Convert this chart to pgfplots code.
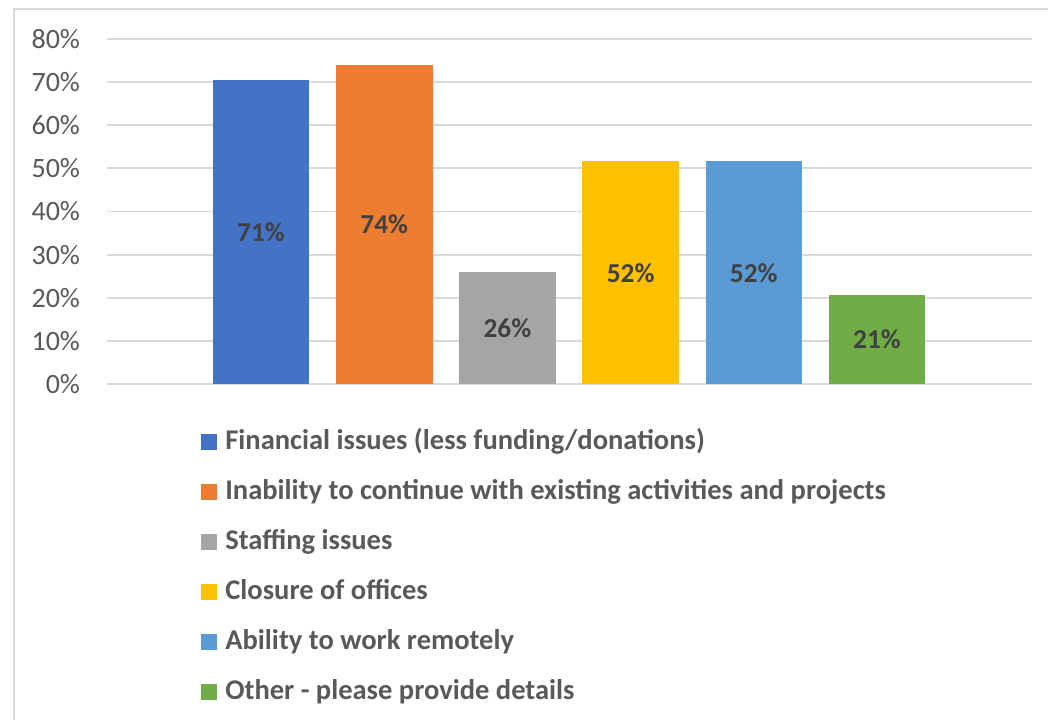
\documentclass[border=0pt]{standalone}
\usepackage{pgfplots}
\pgfplotsset{compat=1.18}
\usepackage{fontspec}
\setmainfont{Carlito}
\definecolor{c1}{HTML}{4472C4}
\definecolor{c2}{HTML}{ED7D31}
\definecolor{c3}{HTML}{A5A5A5}
\definecolor{c4}{HTML}{FFC000}
\definecolor{c5}{HTML}{5B9BD5}
\definecolor{c6}{HTML}{70AD47}
\definecolor{gridc}{HTML}{D9D9D9}
\definecolor{tickc}{HTML}{595959}
\definecolor{labc}{HTML}{404040}
\pgfplotsset{
  mybar/.style={ybar, bar shift=0pt, bar width=72.45pt, draw=none, fill=#1,
    legend image code/.code={\fill[##1,draw=none] (0pt,-6pt) rectangle (12pt,6pt);}},
}
\begin{document}
\begin{tikzpicture}
\useasboundingbox (0,0) rectangle (786pt,539.25pt);
\draw[gridc, line width=1.5pt] (10.5pt,-5pt) -- (10.5pt,532.5pt) -- (800pt,532.5pt);
\begin{axis}[
  at={(80.475pt,251.25pt)}, anchor=south west,
  scale only axis, width=693.3pt, height=258.75pt,
  xmin=-1.2476, xmax=6.2557, ymin=0, ymax=80,
  xtick=\empty, ytick={0,10,...,80},
  axis line style={draw=none},
  major tick length=0pt,
  ymajorgrids, grid style={gridc, line width=1.4pt},
  /pgf/number format/assume math mode=true,
  yticklabel={\pgfmathprintnumber{\tick}\%},
  yticklabel style={font=\fontsize{21pt}{25pt}\selectfont, text=tickc, inner sep=0pt, anchor=east, xshift=-20.3pt},
  visualization depends on={rawy \as \rawy},
  nodes near coords={\pgfmathprintnumber[fixed,precision=0]{\pgfplotspointmeta}\%},
  every node near coord/.append style={anchor=center, yshift={-\rawy*1.6171875pt}, font=\bfseries\fontsize{20.5pt}{24pt}\selectfont, text=labc},
  legend style={at={(0.101,-0.1275)}, anchor=north west, draw=none, fill=none, inner sep=0pt, outer sep=0pt,
    font=\bfseries\fontsize{21.4pt}{25pt}\selectfont, text=tickc,
    row sep=16.5pt, column sep=6.5pt,
    nodes={inner sep=0pt, text height=16pt, text depth=5pt}},
  legend cell align=left,
]
\addplot[mybar=c1] coordinates {(0,70.6)};
\addplot[mybar=c2] coordinates {(1,74.0)};
\addplot[mybar=c3] coordinates {(2,25.9)};
\addplot[mybar=c4] coordinates {(3,51.6)};
\addplot[mybar=c5] coordinates {(4,51.6)};
\addplot[mybar=c6] coordinates {(5,20.7)};
\legend{Financial issues (less funding/donations),
Inability to continue with existing activities and projects,
Staffing issues,
Closure of offices,
Ability to work remotely,
Other - please provide details}
\end{axis}
\end{tikzpicture}
\end{document}
